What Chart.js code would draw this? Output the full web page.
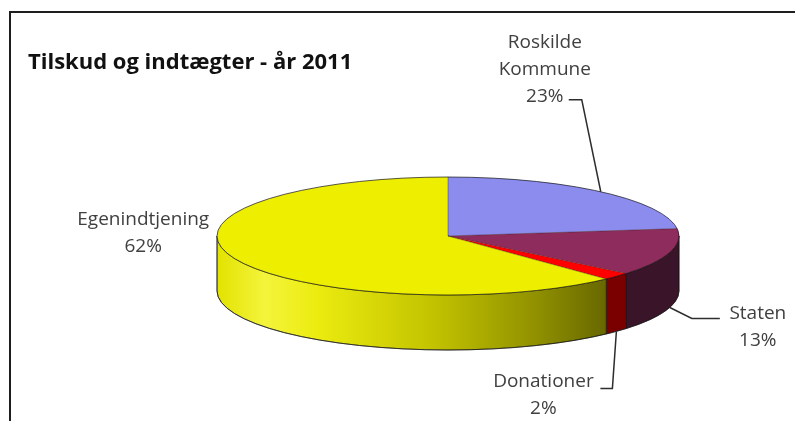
<!DOCTYPE html>
<html><head><meta charset="utf-8">
<script src="https://cdn.jsdelivr.net/npm/chart.js@4.4.1/dist/chart.umd.min.js"></script>
<style>
html,body{margin:0;padding:0;background:#fff;overflow:hidden;}
#wrap{position:relative;width:795px;height:421px;}
#frame{position:absolute;left:9px;top:11px;width:800px;height:420px;border-left:2px solid #1e1e1e;border-top:2px solid #1e1e1e;}
canvas{position:absolute;left:0;top:0;}
</style></head>
<body><div id="wrap"><div id="frame"></div><canvas id="c" width="795" height="421"></canvas></div>
<script>
// ---- data ----
const categories = [['Roskilde', 'Kommune'], ['Staten'], ['Donationer'], ['Egenindtjening']];
const values = [23, 13, 2, 62];
const titleText = 'Tilskud og indtægter - år 2011';

// ---- styles ----
const topColors = ['#8c8cee', '#8e2d5d', '#ff0000', '#eeee00'];
const sideColors = ['#4c4c90', '#3a1428', '#7a0000', null];
const GEOM = {cx: 448, cy: 236, rx: 231, ry: 59, depth: 55};
// label text-block centre relative to anchor, and leader points relative to anchor
const labelOffsets = [[-56, -122.5], [88, 19.5], [-73, 64], [-90, -79.5]];
const leaders = [[[-19, -92], [-32, -92]], [[22, 11], [50, 11]], [[-4, 57], [-16, 57]], null];
const LINE_H = 27;

function sideFill(ctx, i) {
  if (sideColors[i]) return sideColors[i];
  const g = ctx.createLinearGradient(GEOM.cx - GEOM.rx, 0, 612, 0);
  g.addColorStop(0, '#e2e200');
  g.addColorStop(0.12, '#f4f43c');
  g.addColorStop(0.25, '#ecec10');
  g.addColorStop(0.55, '#c2c200');
  g.addColorStop(0.8, '#929200');
  g.addColorStop(1, '#646400');
  return g;
}

const pie3d = {
  id: 'pie3d',
  beforeDatasetsDraw(chart) {
    const ctx = chart.ctx;
    const arcs = chart.getDatasetMeta(0).data;
    const {cx, cy, rx, ry, depth} = GEOM;
    arcs.forEach((arc, i) => {
      const a = Math.max(arc.startAngle, 0), b = Math.min(arc.endAngle, Math.PI);
      if (b <= a) return;
      ctx.save();
      ctx.beginPath();
      ctx.ellipse(cx, cy, rx, ry, 0, a, b, false);
      ctx.ellipse(cx, cy + depth, rx, ry, 0, b, a, true);
      ctx.closePath();
      ctx.fillStyle = sideFill(ctx, i);
      ctx.fill();
      ctx.strokeStyle = 'rgba(20,20,20,0.55)';
      ctx.lineWidth = 1;
      ctx.stroke();
      ctx.restore();
    });
    ctx.save();
    ctx.beginPath();
    ctx.ellipse(cx, cy + depth, rx, ry, 0, 0, Math.PI, false);
    ctx.strokeStyle = 'rgba(20,20,20,0.7)';
    ctx.stroke();
    ctx.beginPath();
    ctx.moveTo(cx - rx, cy); ctx.lineTo(cx - rx, cy + depth);
    ctx.moveTo(cx + rx, cy); ctx.lineTo(cx + rx, cy + depth);
    ctx.stroke();
    ctx.restore();
    const a0 = arcs[0];
    const R = a0.outerRadius;
    ctx.save();
    ctx.translate(cx, cy);
    ctx.scale(rx / R, ry / R);
    ctx.translate(-a0.x, -a0.y);
  },
  afterDatasetsDraw(chart) {
    const ctx = chart.ctx;
    ctx.restore();
    const arcs = chart.getDatasetMeta(0).data;
    const {cx, cy, rx, ry} = GEOM;
    ctx.save();
    ctx.strokeStyle = 'rgba(20,20,20,0.7)';
    ctx.lineWidth = 1;
    ctx.beginPath();
    ctx.ellipse(cx, cy, rx, ry, 0, 0, Math.PI * 2);
    ctx.stroke();
    ctx.strokeStyle = 'rgba(20,20,20,0.35)';
    arcs.forEach(arc => {
      ctx.beginPath();
      ctx.moveTo(cx, cy);
      ctx.lineTo(cx + rx * Math.cos(arc.startAngle), cy + ry * Math.sin(arc.startAngle));
      ctx.stroke();
    });
    ctx.restore();
  },
  afterDraw(chart) {
    const ctx = chart.ctx;
    const arcs = chart.getDatasetMeta(0).data;
    const {cx, cy, rx, ry, depth} = GEOM;
    const total = values.reduce((s, v) => s + v, 0);
    ctx.save();
    arcs.forEach((arc, i) => {
      const m = (arc.startAngle + arc.endAngle) / 2;
      const ax = cx + rx * Math.cos(m);
      let ay = cy + ry * Math.sin(m);
      if (Math.sin(m) > 0) ay += depth;
      const lines = categories[i].concat([Math.round(values[i] / total * 100) + '%']);
      const tx = ax + labelOffsets[i][0];
      const tyc = ay + labelOffsets[i][1];
      if (leaders[i]) {
        ctx.beginPath();
        ctx.moveTo(ax, ay);
        leaders[i].forEach(p => ctx.lineTo(ax + p[0], ay + p[1]));
        ctx.strokeStyle = '#2e2e2e';
        ctx.lineWidth = 1.5;
        ctx.stroke();
      }
      ctx.fillStyle = '#404040';
      ctx.font = '19px "Open Sans"';
      ctx.textAlign = 'center';
      ctx.textBaseline = 'middle';
      const y0 = tyc - (lines.length - 1) * LINE_H / 2;
      lines.forEach((t, k) => ctx.fillText(t, tx, y0 + k * LINE_H));
    });
    ctx.restore();
  }
};

new Chart(document.getElementById('c'), {
  type: 'pie',
  data: {
    labels: categories.map(c => c.join(' ')),
    datasets: [{
      data: values,
      backgroundColor: topColors,
      borderWidth: 0
    }]
  },
  options: {
    responsive: false,
    animation: false,
    events: [],
    rotation: 0,
    layout: {padding: {left: 28, top: 0, right: 0, bottom: 0}},
    plugins: {
      legend: {display: false},
      tooltip: {enabled: false},
      title: {
        display: true,
        text: titleText,
        align: 'start',
        color: '#111',
        font: {family: 'Open Sans', weight: 'bold', size: 22},
        padding: {top: 50, bottom: 10}
      }
    }
  },
  plugins: [pie3d]
});
</script>
</body></html>
